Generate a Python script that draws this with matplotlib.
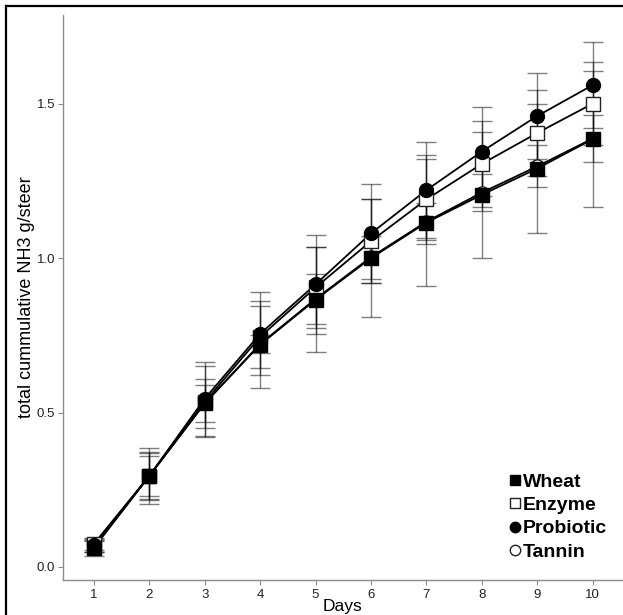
import numpy as np
import matplotlib
matplotlib.use("Agg")
import matplotlib.pyplot as plt
from matplotlib.lines import Line2D

plt.rcParams['font.family'] = ['Liberation Sans', 'DejaVu Sans']

# -----------------------------
# Data
# -----------------------------
days = [1, 2, 3, 4, 5, 6, 7, 8, 9, 10]

wheat = [0.062, 0.295, 0.530, 0.720, 0.865, 1.000, 1.115, 1.205, 1.290, 1.385]
wheat_err = [0.025, 0.090, 0.080, 0.140, 0.170, 0.190, 0.205, 0.205, 0.210, 0.220]

enzyme = [0.075, 0.295, 0.535, 0.745, 0.905, 1.055, 1.190, 1.305, 1.405, 1.500]
enzyme_err = [0.020, 0.078, 0.115, 0.100, 0.130, 0.135, 0.145, 0.140, 0.140, 0.135]

probiotic = [0.070, 0.295, 0.545, 0.755, 0.915, 1.080, 1.220, 1.345, 1.460, 1.560]
probiotic_err = [0.022, 0.065, 0.120, 0.135, 0.160, 0.160, 0.155, 0.145, 0.140, 0.140]

tannin = [0.065, 0.295, 0.530, 0.722, 0.868, 1.003, 1.118, 1.212, 1.297, 1.387]
tannin_err = [0.018, 0.075, 0.060, 0.030, 0.080, 0.070, 0.060, 0.060, 0.068, 0.075]

series_names = ["Wheat", "Enzyme", "Probiotic", "Tannin"]
x_ticks = [1, 2, 3, 4, 5, 6, 7, 8, 9, 10]
y_ticks = [0.0, 0.5, 1.0, 1.5]

# -----------------------------
# Figure
# -----------------------------
fig = plt.figure(figsize=(6.23, 6.15), dpi=100)
ax = fig.add_axes([0.101, 0.057, 0.899, 0.919])

series = [
    (wheat, wheat_err, dict(marker='s', mfc='black', mec='black', ms=10)),
    (enzyme, enzyme_err, dict(marker='s', mfc='white', mec='#222222', ms=9.5, mew=1.0)),
    (probiotic, probiotic_err, dict(marker='o', mfc='black', mec='black', ms=10)),
    (tannin, tannin_err, dict(marker='o', mfc='white', mec='#222222', ms=9.5, mew=1.0)),
]

# error bars first
for vals, err, _ in series:
    ax.errorbar(days, vals, yerr=err, fmt='none', ecolor='black', alpha=0.5,
                elinewidth=1.0, capsize=7, capthick=1.0, zorder=1)

# lines and points: tannin at the bottom, wheat on top
order = [3, 1, 2, 0]
for k, i in enumerate(order):
    vals, err, style = series[i]
    ax.plot(days, vals, color='black', lw=1.3, zorder=2 + k * 0.1)
for k, i in enumerate(order):
    vals, err, style = series[i]
    ax.plot(days, vals, linestyle='none', zorder=3 + k * 0.1, **style)

ax.set_xlim(0.44, 10.55)
ax.set_ylim(-0.042, 1.788)
ax.set_xticks(x_ticks)
ax.set_yticks(y_ticks)
ax.set_yticklabels([f"{v:.1f}" for v in y_ticks])

for side in ['top', 'right']:
    ax.spines[side].set_visible(False)
for side in ['left', 'bottom']:
    ax.spines[side].set_color('#8c8c8c')
    ax.spines[side].set_linewidth(1.0)
ax.tick_params(axis='both', colors='#8c8c8c', length=3.5, width=0.8,
               labelcolor='#222222', labelsize=9.5)
ax.tick_params(axis='x', pad=3)
ax.tick_params(axis='y', pad=2)

ax.set_xlabel("Days", fontsize=12.5)
ax.set_ylabel("total cummulative NH3 g/steer", fontsize=13)
ax.xaxis.set_label_coords(0.5, -0.033)
ax.yaxis.set_label_coords(-0.05, 0.5)

# legend
handles = [
    Line2D([], [], linestyle='none', marker='s', mfc='black', mec='black', ms=7.5),
    Line2D([], [], linestyle='none', marker='s', mfc='white', mec='#222222', ms=7.5),
    Line2D([], [], linestyle='none', marker='o', mfc='black', mec='black', ms=7.5),
    Line2D([], [], linestyle='none', marker='o', mfc='white', mec='#222222', ms=7.5),
]
leg = ax.legend(handles, series_names, loc='lower right',
                bbox_to_anchor=(0.985, 0.02), frameon=False,
                prop={'weight': 'bold', 'size': 14},
                handlelength=0.6, handletextpad=0.1, labelspacing=0.3,
                borderaxespad=0.0)

# outer border (top and left edges visible in the reference)
fig.add_artist(Line2D([0.009, 0.009], [0.0, 0.991], transform=fig.transFigure,
                      color='black', lw=1.6))
fig.add_artist(Line2D([0.009, 1.0], [0.991, 0.991], transform=fig.transFigure,
                      color='black', lw=1.6))

fig.savefig("out.png", dpi=100)
